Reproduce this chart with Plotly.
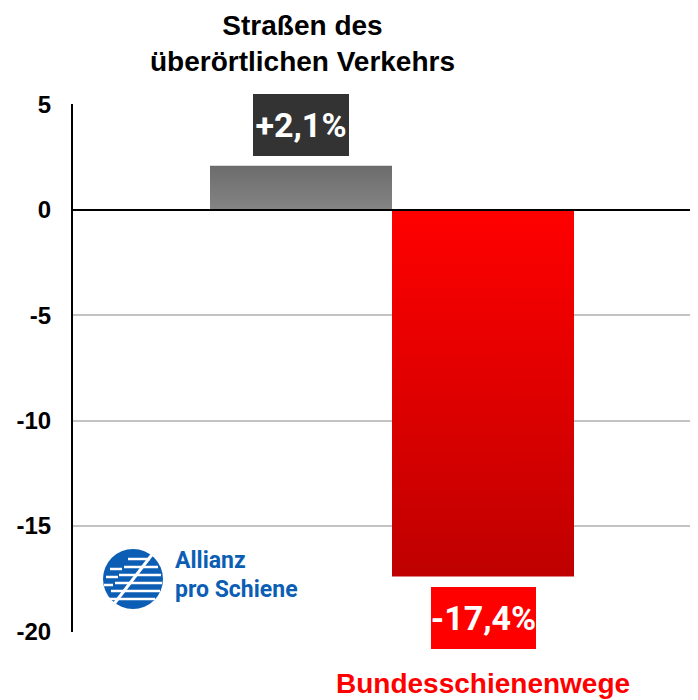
import plotly.graph_objects as go

# ---- data ----
categories = ["Straßen des<br>überörtlichen Verkehrs", "Bundesschienenwege"]
values = [2.1, -17.4]
value_labels = ["+2,1%", "-17,4%"]
y_ticks = [5, 0, -5, -10, -15, -20]
y_tick_labels = ["5", "0", "-5", "-10", "-15", "-20"]
logo_lines = ["Allianz", "pro Schiene"]

# ---- styles ----
bar_top_colors = ["#6c6c6c", "#ff0000"]
bar_bottom_colors = ["#848484", "#bf0000"]
label_bg = ["#333333", "#ff0000"]
label_w = [96, 105]
cat_colors = ["#000000", "#ff0000"]
logo_blue = "#0b5eb4"

OFF = 8  # page body margin
W, H = 698 - OFF, 700 - OFF
L, R, T = 73 - OFF, 0, 104 - OFF
B = H - (632 - OFF)
PW = W - L - R
PH = H - T - B
px_per_cat = 182
x0 = -228 / px_per_cat
xr = [x0, x0 + PW / px_per_cat]

NARROW = "Roboto, Liberation Sans, sans-serif"
SANS = "Liberation Sans, Arial, Helvetica, sans-serif"


def px(xp):
    return (xp - OFF - L) / PW


def py(yp):
    return (H - B - (yp - OFF)) / PH


fig = go.Figure()

for i, v in enumerate(values):
    fig.add_trace(go.Scatter(
        x=[i - 0.5, i + 0.5, i + 0.5, i - 0.5, i - 0.5],
        y=[0, 0, v, v, 0],
        mode="lines", fill="toself",
        line=dict(width=0, color="rgba(0,0,0,0)"),
        fillgradient=dict(type="vertical",
                          colorscale=[[0, bar_bottom_colors[i]], [1, bar_top_colors[i]]]),
        hoverinfo="skip", showlegend=False,
    ))

annotations = []
for i, v in enumerate(values):
    annotations.append(dict(
        x=i, y=v, xref="x", yref="y",
        text=value_labels[i], showarrow=False,
        yanchor="bottom" if v > 0 else "top",
        yshift=10 if v > 0 else -10,
        width=label_w[i], height=62, bgcolor=label_bg[i],
        borderpad=0, borderwidth=0,
        font=dict(family=NARROW, size=34, color="white", weight="bold"),
    ))

# category labels
annotations.append(dict(
    x=0.01, y=py(43), xref="x", yref="paper", text=categories[0], showarrow=False,
    yanchor="middle", xanchor="center",
    font=dict(family=SANS, size=28, color=cat_colors[0], weight="bold"),
))
annotations.append(dict(
    x=1, y=py(683), xref="x", yref="paper", text=categories[1], showarrow=False,
    yanchor="middle", xanchor="center",
    font=dict(family=SANS, size=28, color=cat_colors[1], weight="bold"),
))

# logo text
annotations.append(dict(
    x=px(174), y=py(560), xref="paper", yref="paper", text=logo_lines[0], showarrow=False,
    xanchor="left", yanchor="middle", borderpad=0,
    font=dict(family=NARROW, size=23, color=logo_blue, weight="bold"),
))
annotations.append(dict(
    x=px(174), y=py(589), xref="paper", yref="paper", text=logo_lines[1], showarrow=False,
    xanchor="left", yanchor="middle", borderpad=0,
    font=dict(family=NARROW, size=23, color=logo_blue, weight="bold"),
))

shapes = []
# zero line above bars
shapes.append(dict(type="line", xref="paper", yref="y", x0=0, x1=1, y0=0, y1=0,
                   line=dict(color="black", width=2), layer="above"))
# logo circle
cx, cy, r = 133, 579, 30
shapes.append(dict(type="circle", xref="paper", yref="paper",
                   x0=px(cx - r), x1=px(cx + r), y0=py(cy + r), y1=py(cy - r),
                   fillcolor=logo_blue, line=dict(width=0), layer="above"))
# white stripes
stripes = [(128, 150, 559), (124, 158, 567), (119, 161, 575), (115, 162, 583),
           (111, 160, 591), (108, 155, 599), (110, 122, 569), (106, 118, 577), (104, 113, 585)]
for a, b_, yy in stripes:
    shapes.append(dict(type="line", xref="paper", yref="paper",
                       x0=px(a), x1=px(b_), y0=py(yy), y1=py(yy),
                       line=dict(color="white", width=2.5), layer="above"))
shapes.append(dict(type="line", xref="paper", yref="paper",
                   x0=px(114), x1=px(154), y0=py(604), y1=py(552),
                   line=dict(color="white", width=3), layer="above"))

fig.update_layout(
    width=W, height=H,
    margin=dict(l=L, r=R, t=T, b=B, autoexpand=False),
    paper_bgcolor="white", plot_bgcolor="white",
    showlegend=False,
    annotations=annotations, shapes=shapes,
    xaxis=dict(range=xr, showgrid=False, zeroline=False, showticklabels=False,
               showline=False, fixedrange=True, automargin=False),
    yaxis=dict(range=[-20.03, 5.03], tickmode="array", tickvals=y_ticks,
               ticktext=y_tick_labels, showgrid=True, gridcolor="#c3c3c3", gridwidth=2,
               zeroline=False, showline=True, linecolor="black", linewidth=2,
               ticks="", ticklabelstandoff=15, automargin=False,
               tickfont=dict(family=SANS, size=24, color="black", weight="bold")),
)

fig.write_html("out.html")
